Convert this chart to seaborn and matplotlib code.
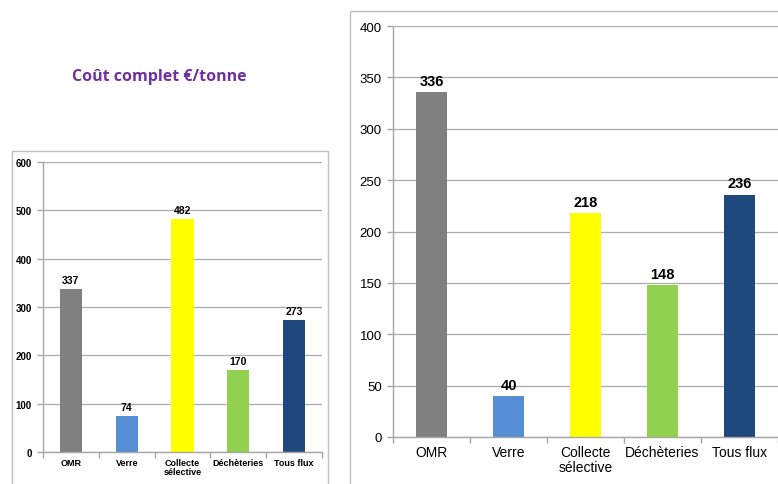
import matplotlib
matplotlib.use("Agg")
import matplotlib.pyplot as plt
from matplotlib.patches import Rectangle
import seaborn as sns
import pandas as pd

categories = ["OMR", "Verre", "Collecte\nsélective", "Déchèteries", "Tous flux"]
cout_tonne = [337, 74, 482, 170, 273]
cout_droite = [336, 40, 218, 148, 236]
couleurs = ["#808080", "#558ED5", "#FFFF00", "#92D050", "#1F497D"]
ticks_gauche = [0, 100, 200, 300, 400, 500, 600]
ticks_droite = [0, 50, 100, 150, 200, 250, 300, 350, 400]

sns.set_theme(style="white")
plt.rcParams["font.family"] = ["Liberation Sans", "DejaVu Sans"]

W, H = 778, 485
fig = plt.figure(figsize=(W / 100, H / 100), dpi=100)


def fx(px):
    return px / W


def fy(py):
    return 1 - py / H


# chart area frames
fig.add_artist(Rectangle((fx(12), fy(490)), fx(316), fy(152) - fy(490),
                         transform=fig.transFigure, fill=False,
                         edgecolor="#BFBFBF", lw=1.0))
fig.add_artist(Rectangle((fx(350), fy(490)), fx(440), fy(12) - fy(490),
                         transform=fig.transFigure, fill=False,
                         edgecolor="#BFBFBF", lw=1.0))

fig.text(fx(159), fy(77), "Coût complet €/tonne", color="#7030A0",
         fontsize=11.5, fontweight="bold", family=["Open Sans", "DejaVu Sans"],
         ha="center", va="center")


def draw(ax, values, ticks, tick_fs, tick_bold, val_fs, xlab_fs, xlab_bold, pad):
    df = pd.DataFrame({"cat": categories, "val": values})
    sns.barplot(data=df, x="cat", y="val", hue="cat", palette=couleurs,
                legend=False, width=0.4, ax=ax, saturation=1,
                edgecolor="none")
    ax.set_xlim(-0.5, 4.5)
    ax.set_ylim(ticks[0], ticks[-1])
    ax.set_yticks(ticks)
    ax.set_yticklabels([str(t) for t in ticks], fontsize=tick_fs,
                       fontweight="bold" if tick_bold else "normal")
    ax.set_xticks(range(len(categories)))
    ax.set_xticklabels(categories, fontsize=xlab_fs,
                       fontweight="bold" if xlab_bold else "normal",
                       linespacing=1.1)
    ax.set_xticks([i - 0.5 for i in range(len(categories) + 1)], minor=True)
    ax.tick_params(axis="x", which="major", length=0, pad=pad)
    ax.tick_params(axis="x", which="minor", length=4, color="#A6A6A6",
                   width=1, direction="out", bottom=True)
    ax.tick_params(axis="y", length=4, color="#A6A6A6", width=1,
                   direction="out", left=True, pad=4)
    ax.set_xlabel("")
    ax.set_ylabel("")
    ax.yaxis.grid(True, color="#ABABAB", lw=0.9)
    ax.set_axisbelow(True)
    for s in ["top", "right"]:
        ax.spines[s].set_visible(False)
    for s in ["left", "bottom"]:
        ax.spines[s].set_color("#A6A6A6")
        ax.spines[s].set_linewidth(1)
    for i, v in enumerate(values):
        ax.annotate(str(v), (i, v), xytext=(0, 3), textcoords="offset points",
                    ha="center", va="bottom", fontsize=val_fs,
                    fontweight="bold", color="#000000")
    for lab in ax.get_xticklabels() + ax.get_yticklabels():
        lab.set_color("#000000")


ax1 = fig.add_axes([fx(43), fy(453), fx(279), fy(163) - fy(453)])
draw(ax1, cout_tonne, ticks_gauche, 7, True, 7.5, 6.5, True, 4)

ax2 = fig.add_axes([fx(393), fy(438), fx(385), fy(27) - fy(438)])
draw(ax2, cout_droite, ticks_droite, 9.5, False, 10.5, 10, False, 6)

fig.savefig("out.png", dpi=100)
